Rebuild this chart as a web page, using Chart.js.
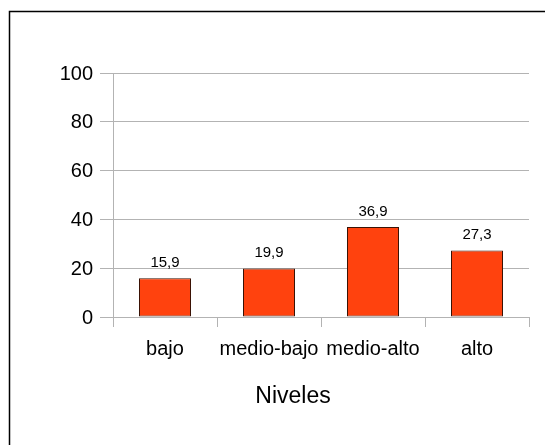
<!DOCTYPE html>
<html>
<head>
<meta charset="utf-8">
<script src="https://cdn.jsdelivr.net/npm/chart.js@4"></script>
<style>
  html, body { margin: 0; padding: 0; background: #ffffff; }
  #wrap { width: 545px; height: 445px; }
</style>
</head>
<body>
<div id="wrap"><canvas id="c" width="545" height="445"></canvas></div>
<script>
// Distribución por niveles (porcentaje)
const categories = ['bajo', 'medio-bajo', 'medio-alto', 'alto'];
const values = [15.9, 19.9, 36.9, 27.3];
const yTicks = [0, 20, 40, 60, 80, 100];
const axisTitle = 'Niveles';

const FONT = '"Liberation Sans", Arial, sans-serif';
const GRID = '#b3b3b3';

// Número con coma decimal
const fmt = v => v.toFixed(1).replace('.', ',');

// Fondo blanco y marco exterior
const framePlugin = {
  id: 'frame',
  beforeDraw(chart) {
    const ctx = chart.ctx;
    ctx.save();
    ctx.fillStyle = '#ffffff';
    ctx.fillRect(0, 0, chart.width, chart.height);
    ctx.strokeStyle = '#000000';
    ctx.lineWidth = 1.5;
    ctx.beginPath();
    ctx.moveTo(9.5, chart.height + 5);
    ctx.lineTo(9.5, 11.5);
    ctx.lineTo(chart.width + 5, 11.5);
    ctx.stroke();
    ctx.restore();
  }
};

// Etiquetas de valor sobre cada barra y título del eje X
const labelsPlugin = {
  id: 'valueLabels',
  afterDatasetsDraw(chart) {
    const ctx = chart.ctx;
    const meta = chart.getDatasetMeta(0);
    ctx.save();
    ctx.fillStyle = '#000000';
    ctx.font = '15px ' + FONT;
    ctx.textAlign = 'center';
    ctx.textBaseline = 'alphabetic';
    meta.data.forEach((bar, i) => {
      ctx.fillText(fmt(values[i]), bar.x, bar.y - 11);
    });
    ctx.font = '23px ' + FONT;
    ctx.textBaseline = 'alphabetic';
    ctx.fillText(axisTitle, 293, 403);
    ctx.restore();
  }
};

new Chart(document.getElementById('c'), {
  type: 'bar',
  data: {
    labels: categories,
    datasets: [{
      data: values,
      backgroundColor: '#ff420e',
      borderColor: '#3a1205',
      borderWidth: 1,
      borderSkipped: false,
      barPercentage: 0.5,
      categoryPercentage: 1.0
    }]
  },
  options: {
    responsive: false,
    animation: false,
    devicePixelRatio: 1,
    layout: { padding: { top: 73, right: 16, left: 0, bottom: 0 } },
    plugins: {
      legend: { display: false },
      tooltip: { enabled: false },
      title: { display: false }
    },
    scales: {
      x: {
        offset: true,
        grid: {
          offset: true,
          drawOnChartArea: true,
          color: ctx => (ctx.index === 0 || ctx.index === categories.length) ? GRID : 'rgba(0,0,0,0)',
          tickColor: GRID,
          tickLength: 10,
          lineWidth: 1
        },
        border: { display: true, color: GRID },
        ticks: {
          color: '#000000',
          font: { family: FONT, size: 20 },
          padding: 10,
          maxRotation: 0,
          autoSkip: false
        },
        afterFit(scale) { scale.height = 128; }
      },
      y: {
        min: 0,
        max: 100,
        afterBuildTicks(scale) { scale.ticks = yTicks.map(v => ({ value: v })); },
        grid: {
          color: GRID,
          tickColor: GRID,
          tickLength: 13,
          lineWidth: 1
        },
        border: { display: true, color: GRID },
        ticks: {
          color: '#000000',
          font: { family: FONT, size: 20 },
          padding: 7,
          labelOffset: 1
        },
        afterFit(scale) { scale.width = 113; }
      }
    }
  },
  plugins: [framePlugin, labelsPlugin]
});
</script>
</body>
</html>
